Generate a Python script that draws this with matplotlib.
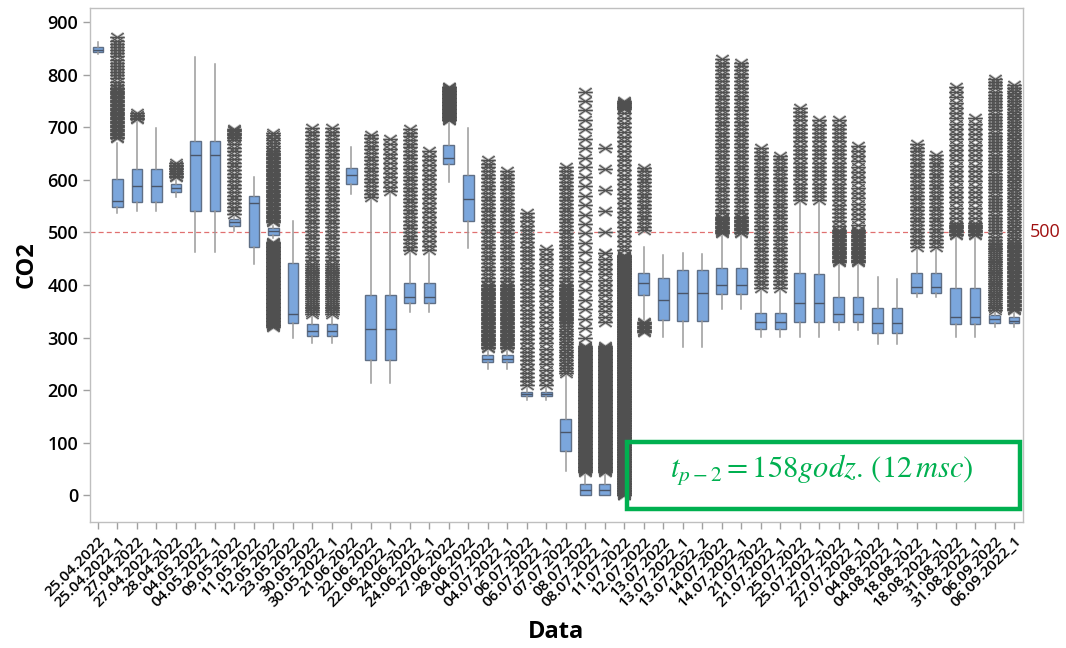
import matplotlib
matplotlib.use("Agg")
import matplotlib.pyplot as plt
from matplotlib.patches import Rectangle
from matplotlib.path import Path
import numpy as np

categories = ["25.04.2022", "25.04.2022_1", "27.04.2022", "27.04.2022_1", "28.04.2022",
              "04.05.2022", "04.05.2022_1", "09.05.2022", "11.05.2022", "12.05.2022",
              "23.05.2022", "30.05.2022", "30.05.2022_1", "21.06.2022", "22.06.2022",
              "22.06.2022_1", "24.06.2022", "24.06.2022_1", "27.06.2022", "28.06.2022",
              "04.07.2022", "04.07.2022_1", "06.07.2022", "06.07.2022_1", "07.07.2022",
              "08.07.2022", "08.07.2022_1", "11.07.2022", "12.07.2022", "13.07.2022",
              "13.07.2022_1", "13.07.2022_2", "14.07.2022", "14.07.2022_1", "21.07.2022",
              "21.07.2022_1", "25.07.2022", "25.07.2022_1", "27.07.2022", "27.07.2022_1",
              "04.08.2022", "04.08.2022_1", "18.08.2022", "18.08.2022_1", "31.08.2022",
              "31.08.2022_1", "06.09.2022", "06.09.2022_1"]

q1 = [843, 548, 558, 558, 576, 540, 540, 513, 472, 495, 327, 302, 302, 593, 257, 257, 365, 365,
      630, 521, 253, 253, 188, 188, 84, 0, 0, 5, 380, 333, 331, 331, 382, 382, 316, 316, 329, 329,
      329, 329, 308, 308, 384, 384, 326, 326, 327, 327]
med = [848, 559, 588, 588, 584, 648, 648, 519, 556, 502, 344, 312, 312, 609, 316, 316, 377, 377,
       641, 563, 260, 260, 192, 192, 120, 10, 10, 15, 403, 371, 384, 384, 400, 400, 329, 329, 365, 365,
       344, 344, 327, 327, 396, 396, 339, 339, 335, 332]
q3 = [853, 601, 620, 620, 592, 673, 673, 525, 569, 508, 441, 325, 325, 622, 380, 380, 403, 403,
      666, 609, 266, 266, 196, 196, 145, 22, 22, 30, 422, 413, 428, 428, 432, 432, 346, 346, 422, 420,
      377, 377, 356, 356, 422, 422, 394, 394, 342, 339]
whislo = [840, 536, 540, 540, 567, 462, 462, 502, 440, 490, 300, 289, 289, 573, 213, 213, 348, 348,
          596, 470, 241, 241, 181, 181, 46, 0, 0, 0, 333, 301, 282, 282, 354, 354, 301, 301, 301, 301,
          314, 314, 287, 287, 377, 377, 301, 301, 320, 320]
whishi = [862, 670, 717, 699, 600, 833, 821, 530, 605, 512, 521, 340, 340, 662, 567, 578, 460, 460,
          713, 698, 275, 275, 205, 205, 232, 44, 44, 40, 472, 457, 460, 458, 495, 495, 390, 390, 561, 561,
          443, 443, 415, 411, 470, 470, 492, 492, 350, 350]

# outlier extents: (low, high, spacing between plotted outliers)
outlier_ranges = {
    1: [(680, 775, 2.5), (775, 872, 6)],
    2: [(715, 728, 3)],
    4: [(605, 634, 3)],
    7: [(535, 680, 7), (680, 698, 2.5)],
    9: [(320, 482, 1.5), (519, 655, 2.5), (655, 694, 5)],
    11: [(345, 440, 3.5), (440, 702, 7)],
    12: [(345, 440, 3.5), (440, 700, 7)],
    14: [(567, 688, 7)],
    15: [(578, 680, 9)],
    16: [(466, 700, 7)],
    17: [(466, 662, 9)],
    18: [(713, 778, 1.5)],
    20: [(280, 400, 2.5), (400, 641, 7)],
    21: [(280, 400, 2.5), (400, 618, 7)],
    22: [(209, 538, 8)],
    23: [(209, 475, 10)],
    24: [(232, 330, 5), (330, 400, 2.5), (400, 624, 7)],
    25: [(44, 285, 1.5), (300, 784, 18)],
    26: [(44, 285, 1.5), (330, 460, 10), (460, 681, 40)],
    27: [(0, 457, 1.2), (457, 735, 9), (735, 750, 1.5)],
    28: [(310, 330, 2.5), (504, 628, 7)],
    32: [(498, 529, 2.5), (529, 833, 7)],
    33: [(499, 529, 2.5), (529, 828, 7)],
    34: [(394, 666, 7)],
    35: [(394, 650, 7)],
    36: [(561, 742, 8)],
    37: [(561, 713, 8)],
    38: [(443, 505, 2.5), (505, 717, 8)],
    39: [(443, 505, 2.5), (505, 672, 10)],
    42: [(472, 669, 7)],
    43: [(472, 653, 7)],
    44: [(495, 517, 2.5), (517, 780, 10)],
    45: [(495, 517, 2.5), (517, 719, 10)],
    46: [(352, 480, 3.5), (480, 793, 6)],
    47: [(352, 480, 2.5), (480, 780, 5)],
}

reference_value = 500
annotation = r'$t_{p-2} = 158godz.\,(12\,msc)$'

plt.rcParams['font.family'] = ['Open Sans', 'DejaVu Sans']
plt.rcParams['mathtext.fontset'] = 'stix'

fig = plt.figure(figsize=(10.66, 6.48), dpi=100)
ax = fig.add_axes([90 / 1066, 1 - 522 / 648, (1023 - 90) / 1066, (522 - 8) / 648])

stats = []
for i in range(len(categories)):
    stats.append(dict(med=med[i], q1=q1[i], q3=q3[i], whislo=whislo[i], whishi=whishi[i],
                      fliers=np.array([]), label=categories[i]))

ax.bxp(stats, positions=range(len(categories)), widths=0.55, patch_artist=True,
       showcaps=False, showfliers=False,
       boxprops=dict(facecolor='#7BA6DC', edgecolor='#5F6F86', linewidth=1.0),
       medianprops=dict(color='#4A5568', linewidth=1.0),
       whiskerprops=dict(color='#9A9A9A', linewidth=1.1),
       zorder=3)

# Minitab-like asterisk: horizontal bar plus a flat X
ast = Path([(-1, 0), (1, 0), (-0.85, -0.6), (0.85, 0.6), (-0.85, 0.6), (0.85, -0.6)],
           [Path.MOVETO, Path.LINETO, Path.MOVETO, Path.LINETO, Path.MOVETO, Path.LINETO])

for i in range(len(categories)):
    fl = []
    for lo, hi, st in outlier_ranges.get(i, []):
        fl.extend(np.arange(lo, hi + 0.01, st))
    if not fl:
        continue
    xs = np.full(len(fl), i)
    ax.plot(xs, fl, linestyle='none', marker=ast, markersize=10.5, markerfacecolor='none',
            markeredgecolor='#B8B8B8', markeredgewidth=2.0, zorder=4)
    ax.plot(xs, fl, linestyle='none', marker=ast, markersize=10.5, markerfacecolor='none',
            markeredgecolor='#505050', markeredgewidth=0.8, zorder=5)

ax.axhline(reference_value, color='#E07070', linestyle=(0, (4, 2.5)), linewidth=0.9, zorder=2)
ax.text(1.007, reference_value, str(reference_value), transform=ax.get_yaxis_transform(),
        color='#A01010', fontsize=13, va='center', ha='left')

ax.set_xlim(-0.41, 47.46)
ax.set_ylim(-51, 927)
ax.set_yticks(range(0, 901, 100))
ax.set_xticks(range(len(categories)))
ax.set_xticklabels(categories, rotation=45, ha='right', rotation_mode='anchor',
                   fontsize=11, fontweight='semibold')
for lab in ax.get_yticklabels():
    lab.set_fontsize(13)
    lab.set_fontweight('semibold')
ax.tick_params(axis='both', colors='#A0A0A0', labelcolor='black', length=5, width=1)
for sp in ax.spines.values():
    sp.set_color('#BFBFBF')
    sp.set_linewidth(1.0)

ax.set_ylabel('CO2', fontsize=17, fontweight='bold', labelpad=6)
ax.set_xlabel('Data', fontsize=17, fontweight='bold')
ax.xaxis.set_label_coords(0.5, -0.19)

rect = Rectangle((627 / 1066, 1 - 509 / 648), (1020 - 627) / 1066, (509 - 442) / 648,
                 transform=fig.transFigure, fill=False, edgecolor='#00B050', linewidth=3.2,
                 zorder=10)
fig.patches.append(rect)
fig.text(822 / 1066, 1 - 470 / 648, annotation, color='#00B050', fontsize=22,
         ha='center', va='center')

fig.savefig('out.png', dpi=100)
